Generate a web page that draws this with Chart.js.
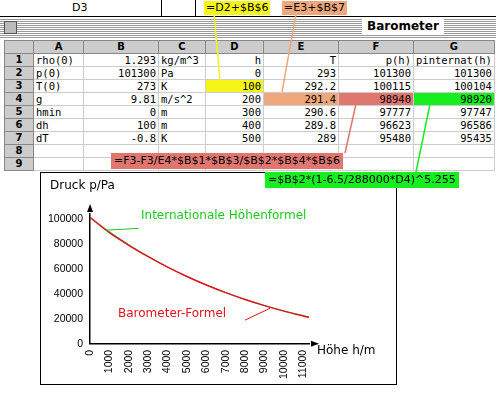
<!DOCTYPE html>
<html><head><meta charset="utf-8">
<script src="https://cdn.jsdelivr.net/npm/chart.js@4"></script>
<style>
body{margin:0;width:496px;height:406px;background:#fff;position:relative;overflow:hidden;font-family:"DejaVu Sans",sans-serif}
.abs{position:absolute}
table{border-collapse:collapse;font-family:"DejaVu Sans Mono",monospace;font-size:10.5px}
td{border:1px solid #ccc;height:12px;padding:0 2px;white-space:nowrap;line-height:12px}
td.r{text-align:right}
td.h{background:#ccc;font-weight:bold;text-align:center;border:1px solid #888;font-family:"DejaVu Sans",sans-serif;font-size:10px}
.f{position:absolute;font-size:11px;padding:0 2px;line-height:14px}
</style></head><body>
<div class="abs" style="left:0;top:0;width:496px;height:16px;border-bottom:1px solid #000"></div>
<div class="abs" style="left:161px;top:0;width:1px;height:16px;background:#000"></div>
<div class="abs" style="left:195px;top:0;width:1px;height:16px;background:#000"></div>
<div class="abs" style="left:72px;top:1px;font-size:11px">D3</div>
<div class="abs" style="left:0;top:18px;width:496px;height:20px;background:repeating-linear-gradient(#fff 0 1px,#999 1px 2px)"></div>
<div class="abs" style="left:4px;top:21px;width:11px;height:11px;background:#bbb;border:1px solid #555"></div>
<div class="abs" style="left:362px;top:18px;padding:1px 5px;background:#fff;font-weight:bold;font-size:12px">Barometer</div>
<table class="abs" style="left:4px;top:40px;table-layout:fixed">
<colgroup><col style="width:29px"><col style="width:50px"><col style="width:75px"><col style="width:47px"><col style="width:58px"><col style="width:75px"><col style="width:75px"><col style="width:75px"></colgroup>
<tr><td class="h"></td><td class="h">A</td><td class="h">B</td><td class="h">C</td><td class="h">D</td><td class="h">E</td><td class="h">F</td><td class="h">G</td></tr>
<tr><td class="h">1</td><td>rho(0)</td><td class="r">1.293</td><td>kg/m^3</td><td class="r">h</td><td class="r">T</td><td class="r">p(h)</td><td class="r">pinternat(h)</td></tr>
<tr><td class="h">2</td><td>p(0)</td><td class="r">101300</td><td>Pa</td><td class="r">0</td><td class="r">293</td><td class="r">101300</td><td class="r">101300</td></tr>
<tr><td class="h">3</td><td>T(0)</td><td class="r">273</td><td>K</td><td class="r" style="background:#f5f51a">100</td><td class="r">292.2</td><td class="r">100115</td><td class="r">100104</td></tr>
<tr><td class="h">4</td><td>g</td><td class="r">9.81</td><td>m/s^2</td><td class="r">200</td><td class="r" style="background:#efa77b">291.4</td><td class="r" style="background:#df7770">98940</td><td class="r" style="background:#16ee20">98920</td></tr>
<tr><td class="h">5</td><td>hmin</td><td class="r">0</td><td>m</td><td class="r">300</td><td class="r">290.6</td><td class="r">97777</td><td class="r">97747</td></tr>
<tr><td class="h">6</td><td>dh</td><td class="r">100</td><td>m</td><td class="r">400</td><td class="r">289.8</td><td class="r">96623</td><td class="r">96586</td></tr>
<tr><td class="h">7</td><td>dT</td><td class="r">-0.8</td><td>K</td><td class="r">500</td><td class="r">289</td><td class="r">95480</td><td class="r">95435</td></tr>
<tr><td class="h">8</td><td></td><td></td><td></td><td></td><td></td><td></td><td></td></tr>
<tr><td class="h">9</td><td></td><td></td><td></td><td></td><td></td><td></td><td></td></tr>
</table>
<div class="abs" style="left:40px;top:171px;width:456px;height:235px;background:#fff"></div>
<div class="abs" style="left:40px;top:172px;width:355px;height:211px;border:1px solid #000"></div>
<canvas id="c" class="abs" style="left:41px;top:173px;width:354px;height:210px"></canvas>
<svg class="abs" style="left:0;top:0" width="496" height="406">
<line x1="214" y1="14" x2="220" y2="80" stroke="#f5f51a" stroke-width="1.5"/>
<line x1="296" y1="14" x2="282" y2="92" stroke="#efa77b" stroke-width="1.5"/>
<line x1="356" y1="104" x2="345" y2="153" stroke="#df7770" stroke-width="1.5"/>
<line x1="430" y1="104" x2="416" y2="172" stroke="#16ee20" stroke-width="1.5"/>
</svg>
<div class="f" style="left:204px;top:1px;background:#f5f51a">=D2+$B$6</div>
<div class="f" style="left:282px;top:1px;background:#efa77b">=E3+$B$7</div>
<div class="f" style="left:111px;top:153px;background:#df7770;padding:1px 3px">=F3-F3/E4*$B$1*$B$3/$B$2*$B$4*$B$6</div>
<div class="f" style="left:265px;top:172px;background:#16ee20;padding:1px 3px">=$B$2*(1-6.5/288000*D4)^5.255</div>
<div class="abs" style="left:50px;top:178px;font-size:12px">Druck p/Pa</div>
<div class="abs" style="left:317px;top:343px;font-size:12px">Höhe h/m</div>
<div class="abs" style="left:141px;top:208px;font-size:12px;color:#1ec81e">Internationale Höhenformel</div>
<div class="abs" style="left:118px;top:306px;font-size:12px;color:#e0141e">Barometer-Formel</div>
<script>
const heights = [0, 1000, 2000, 3000, 4000, 5000, 6000, 7000, 8000, 9000, 10000, 11000, 11300];
const pBarometer = [101300, 89000, 78900, 69800, 61400, 53900, 47100, 41000, 35500, 30600, 26200, 22300, 21200];
const pInternat = [101300, 89900, 79500, 70100, 61600, 54000, 47200, 41100, 35600, 30700, 26400, 22600, 21600];
const yTicks = [0, 20000, 40000, 60000, 80000, 100000];

const ann = {
  id: 'ann',
  afterDraw(ch) {
    const c = ch.ctx, x = ch.scales.x, y = ch.scales.y;
    c.save();
    c.lineWidth = 1;
    c.strokeStyle = '#1ec81e';
    c.beginPath();
    c.moveTo(x.getPixelForValue(800), y.getPixelForValue(91000));
    c.lineTo(x.getPixelForValue(2500), y.getPixelForValue(92500));
    c.stroke();
    c.strokeStyle = '#e0141e';
    c.beginPath();
    c.moveTo(x.getPixelForValue(8000), y.getPixelForValue(19000));
    c.lineTo(x.getPixelForValue(9300), y.getPixelForValue(28500));
    c.stroke();
    c.fillStyle = '#000';
    const x0 = x.getPixelForValue(0), y0 = y.getPixelForValue(0);
    c.beginPath(); c.moveTo(x0, ch.chartArea.top - 10); c.lineTo(x0 - 3, ch.chartArea.top - 2); c.lineTo(x0 + 3, ch.chartArea.top - 2); c.fill();
    c.beginPath(); c.moveTo(ch.chartArea.right + 10, y0); c.lineTo(ch.chartArea.right + 2, y0 - 3); c.lineTo(ch.chartArea.right + 2, y0 + 3); c.fill();
    c.restore();
  }
};

new Chart(document.getElementById('c'), {
  type: 'line',
  data: {
    labels: heights,
    datasets: [
      { data: heights.map((h, i) => ({x: h, y: pBarometer[i]})), borderColor: '#e0141e', borderWidth: 1.5, pointRadius: 0, tension: 0.3 },
      { data: heights.map((h, i) => ({x: h, y: pInternat[i]})), borderColor: '#1ec81e', borderWidth: 1, pointRadius: 0, tension: 0.3 }
    ]
  },
  options: {
    responsive: false,
    animation: false,
    layout: { padding: { left: 4, top: 41, right: 86, bottom: 2 } },
    plugins: { legend: { display: false }, tooltip: { enabled: false } },
    scales: {
      x: {
        type: 'linear', min: 0, max: 11300,
        afterBuildTicks: s => { s.ticks = heights.slice(0, 12).map(v => ({value: v})); },
        ticks: { color: '#000', font: { size: 10.5 }, minRotation: 90, maxRotation: 90, padding: 2, callback: v => String(v) },
        grid: { display: false, drawTicks: true, tickLength: 4, tickColor: '#000' },
        border: { color: '#000', width: 1.5 }
      },
      y: {
        min: 0, max: 104000,
        afterBuildTicks: s => { s.ticks = yTicks.map(v => ({value: v})); },
        ticks: { color: '#000', font: { size: 10.5 }, padding: 3, callback: v => String(v) },
        grid: { display: false, tickLength: 4, tickColor: '#000' },
        border: { color: '#000', width: 1.5 }
      }
    }
  },
  plugins: [ann]
});
</script>
</body></html>
